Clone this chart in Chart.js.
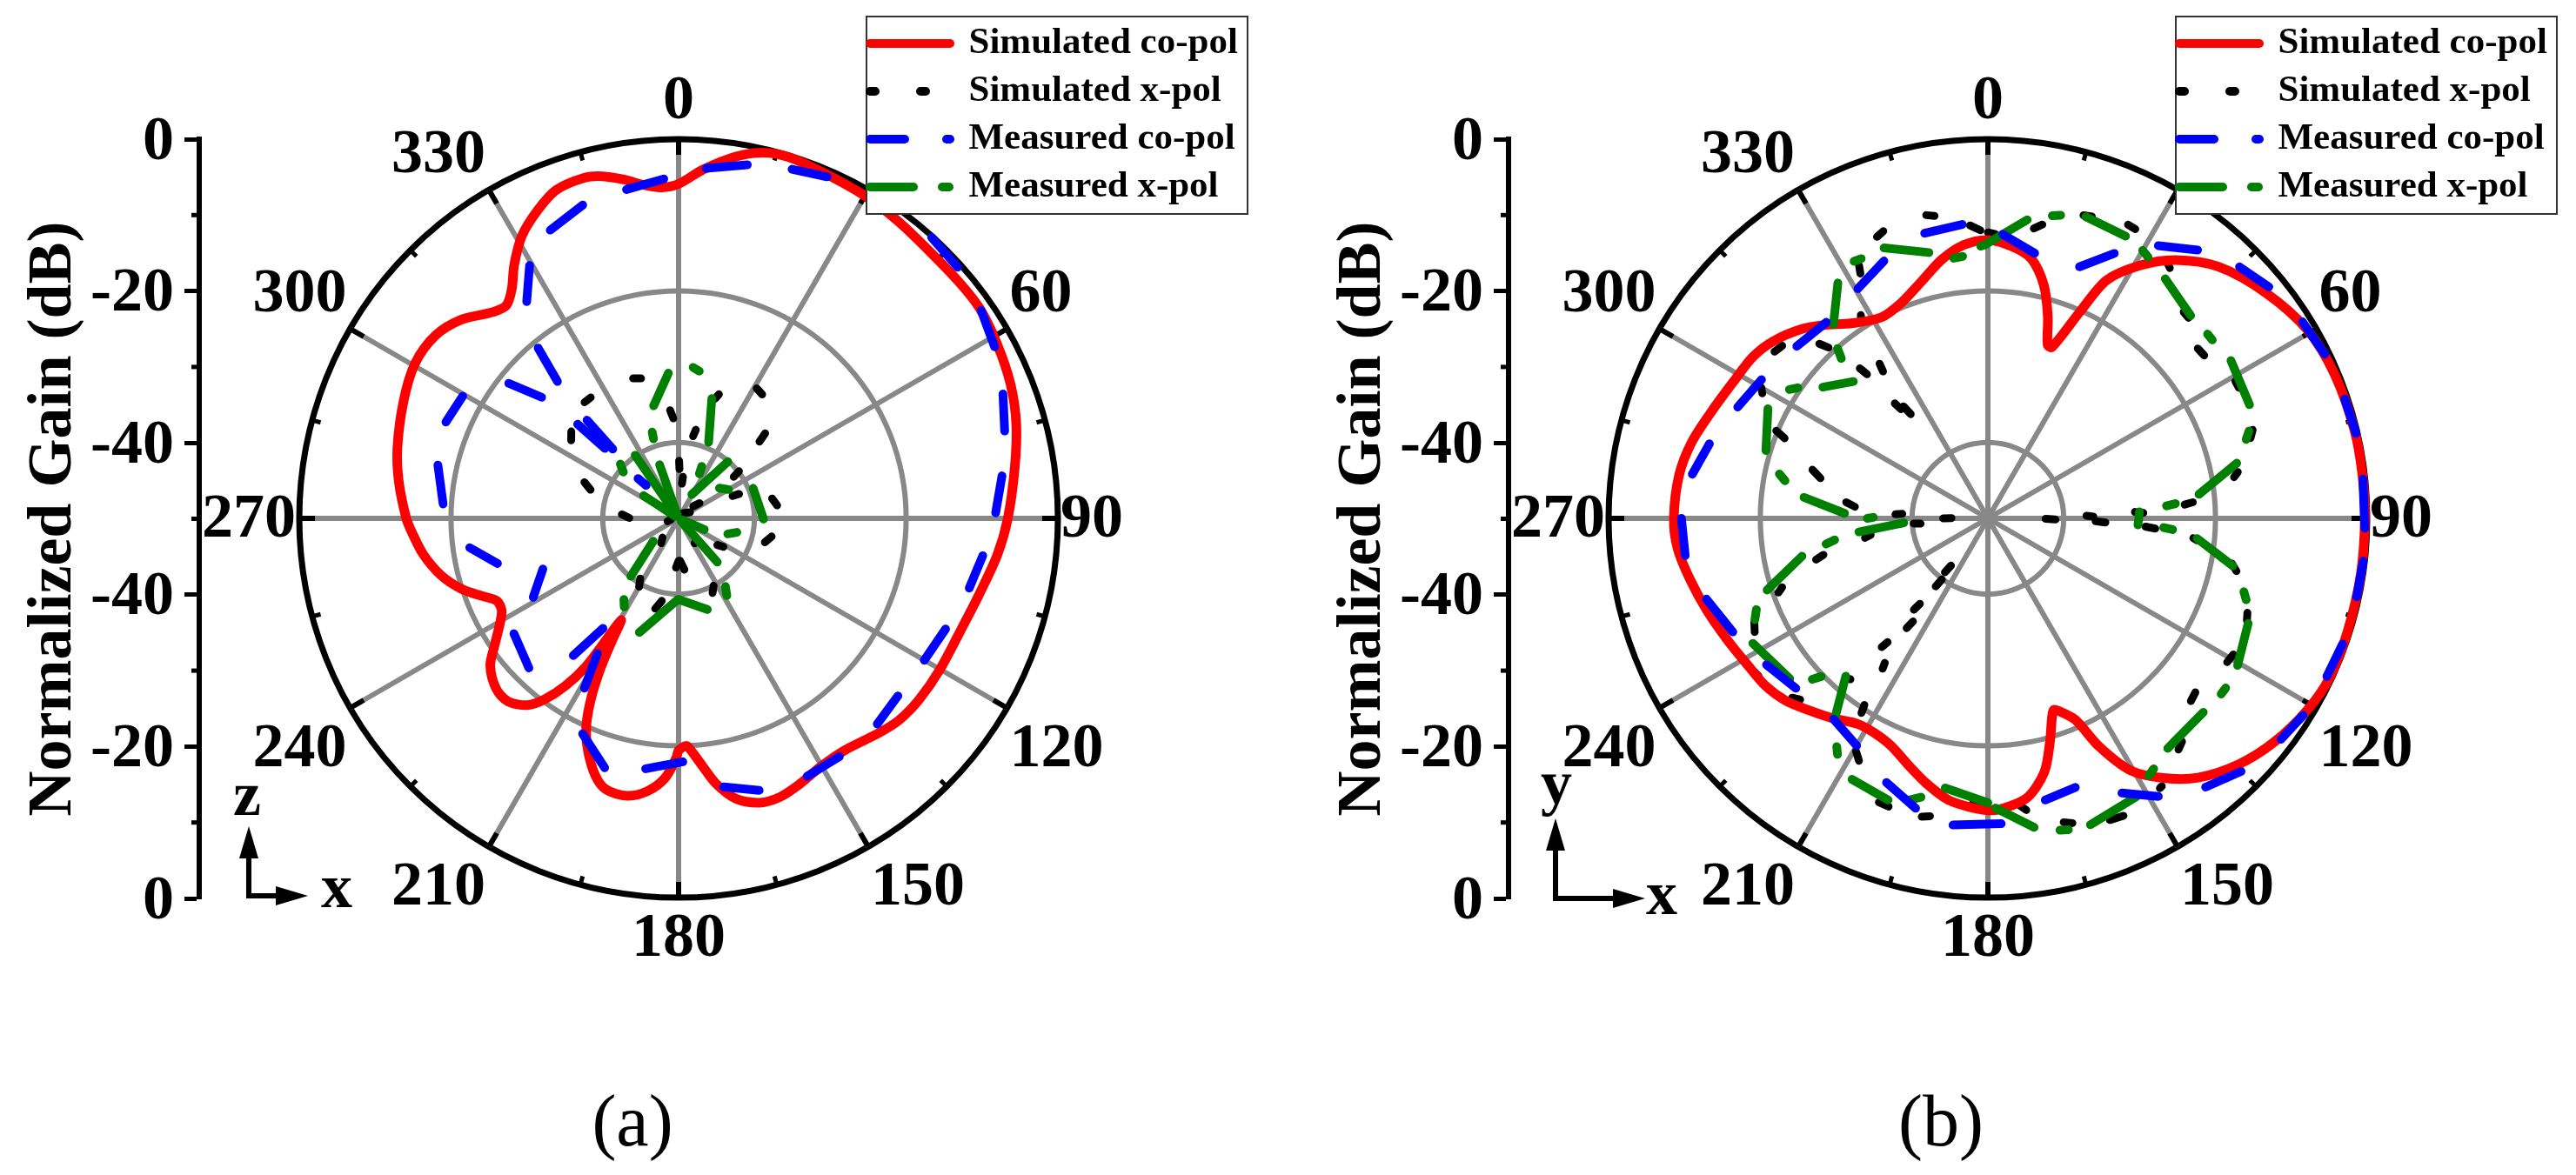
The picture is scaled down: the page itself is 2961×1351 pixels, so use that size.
<!DOCTYPE html>
<html><head><meta charset="utf-8">
<style>html,body{margin:0;padding:0;background:#fff;width:2961px;height:1351px;overflow:hidden}
canvas{position:absolute;top:0;display:block}</style>
<script src="https://cdn.jsdelivr.net/npm/chart.js@4"></script>
</head><body>
<canvas id="chartA" width="1456" height="1351" style="left:0"></canvas>
<canvas id="chartB" width="1456" height="1351" style="left:1505px"></canvas>
<script>
// ---------- values: [angle deg, gain dB] ----------
const simCoA=[[0,-5.9],[4,-3.9],[9,-1.7],[13,-.5],[17,-.2],[23,-.6],[30,-.9],[36.5,-1.3],[44,-1.7],[50,-1.65],[55,-1.6],[61,-2.1],[68,-2.8],[74.5,-3.8],[81.5,-5.2],[90,-6.6],[96.5,-7.7],[104,-9.1],[110.5,-9.9],[120,-10.2],[127,-10.3],[132.5,-10.6],[137,-11.3],[144.5,-12.4],[150,-12.3],[155.5,-11.5],[160,-10.9],[164,-11],[168.5,-12.3],[172,-14.7],[174.5,-17.2],[177,-19.4],[178,-20],[180,-19.4],[180.5,-18.5],[183,-15.7],[186.5,-13.8],[190.5,-12.8],[195,-13],[198,-14.4],[201.5,-17.3],[204,-20.1],[206,-23.8],[207.5,-27.8],[208.5,-31.5],[209.5,-34.6],[211,-30.6],[212,-27],[214,-23.4],[216.5,-20.3],[219,-18.3],[223,-17],[227,-17.1],[232,-18.5],[235.5,-20.6],[242,-23.6],[245.5,-23.7],[248.5,-22.1],[252,-19.9],[256.5,-17.8],[262,-16],[267,-14.8],[270,-14.1],[277.5,-12.8],[284,-11.8],[293,-10.6],[300.5,-9.7],[307,-9.9],[312.5,-11.2],[318,-13.4],[321,-13.9],[324,-12.6],[327,-10.2],[331,-7.4],[335.5,-5.3],[339.5,-3.8],[344.5,-3.4],[347.5,-3.8],[351,-4.8],[354,-5.8],[357,-6.3]];
const simCoB=[[0,-13.3],[5,-14],[9.5,-15.3],[13.5,-18.4],[16.5,-22.2],[19,-25.8],[20.5,-25.9],[24,-20.2],[26.5,-14.9],[31,-11.1],[36,-7.9],[42.5,-5],[51,-2.8],[59.5,-1.1],[67.5,-.5],[76.5,-.3],[83.5,-.3],[90,-.3],[98.5,-.3],[107.5,-.3],[115,-.3],[121,-.9],[128,-2.1],[134.5,-3.7],[141,-6],[146,-8.7],[150.5,-11.8],[154,-16.5],[156.5,-21],[159.5,-22.8],[161,-23.3],[162,-22.6],[164.5,-19.4],[167.5,-15.7],[172,-12.8],[177,-11.7],[180,-11.5],[184,-11.9],[188,-12.5],[193,-14.1],[197.5,-15.7],[203,-17.4],[208,-18],[212.5,-17.9],[217.5,-16.7],[223,-15.4],[228,-14.1],[233,-13.3],[238.5,-12.9],[245,-12.1],[252,-11],[258.5,-9.9],[264.5,-8.9],[270,-8.6],[278,-8.9],[284.5,-9.7],[291.5,-11],[299,-12],[304.5,-12.4],[309.5,-13.3],[315.5,-15],[320,-16.7],[325,-18.6],[332,-20],[338,-19.4],[344.5,-17.5],[350,-15.3],[355,-13.8]];
// each visible dash: [angle1, dB1, angle2, dB2]
const simXA=[[342,-30.6,345,-30.9],[321,-30.3,324,-30.3],[306,-32.5,309,-31.8],[288,-37.8,291,-36.7],[270.5,-43.5,274,-42.5],[255,-48.5,262,-49],[215,-46,220,-46.7],[210,-39.6,212.5,-40.6],[191.5,-38.9,194.5,-37.7],[180,-44.4,183,-43.5],[173.5,-43.2,178,-44.4],[152.5,-40,155.5,-39.2],[142.5,-46.2,147,-46.1],[122.5,-43,124.5,-43.8],[101,-37.5,105.5,-38.2],[67.5,-42.3,68,-41.4],[78,-37.4,82.5,-36.9],[52,-39.9,53,-40.9],[41,-49.1,62,-48.3],[50.5,-47.5,54,-46.6],[10,-39,11,-38.1],[5.5,-45.4,6,-44.5],[.5,-42.4,1,-43.5],[355.5,-35.7,357,-36.8],[17,-33.5,18,-32.8],[31,-30,34,-30.3],[45.5,-34,46.5,-35.3]];
const simXB=[[356.5,-11.3,358.5,-12],[0,-12.3,1.5,-12.5],[9,-11.3,10.5,-10.6],[17.5,-8.1,19,-7.9],[25.5,-7.1,27,-7.2],[35,-8.8,36,-9.2],[43.5,-12.5,45,-12.6],[51,-14.4,53,-14.3],[61,-12.7,62.5,-12.7],[71.5,-13.2,73,-13.8],[79.5,-16.5,80.5,-17.1],[85.5,-22.9,86,-24],[93,-29.2,93.5,-27.9],[87.5,-30.6,88,-29.5],[88.5,-37,89,-36.1],[91.5,-35.8,92,-34.5],[90.5,-42.4,91,-41.1],[95.5,-22.8,96,-22.3],[100.5,-17.3,102,-16.5],[110,-13.6,111.5,-13.3],[119,-13,121,-13.2],[130,-14.3,132,-14],[139,-11,140.5,-10.5],[147,-7.9,147.5,-7.8],[155.5,-6.9,158,-7.1],[164.5,-8.3,166,-8.7],[172.5,-11.2,174,-12.1],[182,-12.4,183,-12.4],[191,-10,192.5,-9.7],[199,-9.8,201,-9.9],[208,-13.8,209.5,-14.7],[213,-19.4,213.5,-20.5],[220.5,-22.1,221.5,-21.8],[226,-15.6,227.5,-15],[235.5,-13.3,237,-13.1],[244,-15.8,246,-16.3],[250.5,-20.7,251.5,-21.4],[256.5,-26.7,257.5,-27.8],[261,-33.6,262,-34.4],[265.5,-41.1,266,-40.2],[270,-44.1,270.5,-45.2],[215,-25.8,215.5,-26.6],[219,-29,219.5,-28],[216,-33.2,216.5,-32],[218.5,-35.6,219,-34.5],[217,-39.9,217.5,-38.7],[218,-42.1,218.5,-40.9],[272.5,-37.8,273,-38.7],[275,-32.4,276.5,-31.2],[283.5,-27.3,285.5,-26],[291.5,-21.2,292.5,-19.8],[299,-16,300,-15.5],[321,-30.5,321.5,-31.6],[323,-31.5,323.5,-32.9],[319.5,-24,320,-25.2],[324.5,-26.2,325,-25.1],[316,-18,317,-19.2],[308,-14.3,310,-14.6],[327.5,-18.9,328,-18.4],[332.5,-13.6,333,-12.6],[338.5,-10.1,340,-9.7],[348.5,-9.2,350,-9.5]];
const measCoA=[[4.5,-3.7,11,-2.5],[18,-1.6,23.5,-.9],[42,-.15,48,-.5],[55.5,-1.6,61.5,-2.6],[69,-4.2,75,-5.5],[82.5,-7,89,-8.2],[97,-9.6,103.5,-10.6],[112.5,-11.9,120,-12.6],[129,-12.8,136,-12.3],[146,-12.1,153.5,-12],[163.5,-12.6,170.5,-14.1],[179,-17.9,187.5,-16.7],[196.5,-15.7,204,-18.9],[209,-24.4,211,-29.2],[214.5,-32.4,217.5,-27.2],[225,-22.1,235,-23.5],[241.5,-28.2,249.5,-30.9],[256,-25.4,262,-22.2],[273.5,-18.9,282.5,-17.5],[292.5,-16.8,299.5,-17.3],[308.5,-21.4,311.5,-25.9],[318.5,-25.9,320.5,-20.9],[313,-31.8,313.5,-36.6],[316.5,-37.4,317,-32.3],[314.5,-42.5,315.5,-43.9],[325,-15.1,329.5,-11.3],[336,-8.4,343,-6.8],[351,-6.1,357.5,-5.2]];
const measCoB=[[3,-12.5,10,-14.5],[20,-14.7,25.5,-11.3],[32,-7.6,38,-5.1],[45,-3.1,50.5,-2],[58,-1.1,64,-.6],[71.5,-.4,77,-.2],[84,-.3,91.5,-.3],[96.5,-.2,102,-.3],[109.5,-.4,115,-.7],[122,-1,127,-1.6],[135,-2.8,141,-4.4],[148.5,-7,154,-9.7],[162,-12.7,168.5,-12.1],[177.5,-9.7,186.5,-9.3],[194,-10.6,201,-12.7],[210,-15.4,217.5,-16.6],[228.5,-16.2,236.5,-15],[246,-13.2,254,-11.4],[263,-9.8,270,-9.6],[278.5,-10.6,285,-12],[294,-13.9,301.5,-15],[312,-16.1,320.5,-16.5],[330.5,-15.2,338,-13.4],[347.5,-11.5,355,-11.1]];
const measXA=[[347.5,-34.8,356,-30.8],[5.5,-30,8,-30.4],[15.5,-33.6,21.5,-39.2],[342.5,-39,343,-38.1],[324,-49.5,325.5,-39.9],[339.5,-49.5,340.5,-42.5],[302,-49.5,303,-44.5],[310,-40.5,313,-39.5],[24,-42.5,25,-43.5],[29,-46.4,41,-40.1],[53.5,-43.3,60,-42.4],[68,-39.4,90.5,-38.8],[103.5,-42.1,107.5,-43.2],[113,-49.5,113.5,-46.3],[138,-49.5,138.5,-42.3],[145.5,-39.1,148,-38],[162.5,-37.4,180,-39.3],[180.5,-39.3,199,-34.1],[211.5,-36.3,214,-37.1],[219.5,-40.1,228,-45.5]];
const measXB=[[358.5,-14.1,359.5,-13.9],[0,-13.7,7.5,-10.3],[12,-9.2,13.5,-8.9],[18,-8.2,26,-8.6],[30,-9.2,31.5,-9.6],[36.5,-10.7,45,-12.2],[50,-12.2,51.5,-12.2],[57,-11.8,66.5,-12.4],[71.5,-13.7,73,-14.4],[77.5,-16.4,83.5,-22],[85.5,-25.2,86,-26.4],[87.5,-30,92.5,-30.2],[93,-26.8,93.5,-25.6],[95.5,-22.3,101,-17.1],[106,-14.9,107.5,-14.3],[112,-13,120.5,-11.8],[125.5,-11.5,127,-11.5],[132,-11.8,142,-11.5],[146.5,-10.4,148,-10],[152,-8.4,161.5,-7.4],[165.5,-7.6,167,-7.8],[171.5,-8.8,178.5,-11.8],[180,-12.5,189,-14],[193.5,-12.2,195.5,-11.5],[199.5,-10.6,207.5,-11.2],[212.5,-13.1,213.5,-13.9],[217.5,-16.9,222,-22],[226.5,-19.7,227.5,-18.6],[231,-16.4,242,-14.9],[246.5,-16.5,248.5,-17.2],[252,-19.4,258.5,-25],[261,-28.4,262,-29.6],[264,-32.9,267,-38.9],[270,-34.1,270.5,-34.9],[272,-31.1,276.5,-25.6],[280.5,-22.8,282,-21.9],[287,-19.4,296.5,-17.6],[303,-18.8,304.5,-19.6],[308.5,-22.2,315.5,-24.7],[317.5,-21.4,318.5,-20.1],[321.5,-17.3,327.5,-13.2],[332.5,-11.8,334,-11.9],[339,-11.8,347.5,-14.1],[352.5,-15.4,354.5,-15.3]];
// ---------- labels ----------
const legendNames=['Simulated co-pol','Simulated x-pol','Measured co-pol','Measured x-pol'];
const angleTickValues=[0,60,90,120,150,180,210,240,270,300,330];
const gainTickValues=[50,30,10,-10,-30,-50];
const gainTickLabels=['0','-20','-40','-40','-20','0'];
const axisTitle='Normalized Gain (dB)';

// ---------- setup ----------
const SERIF='"Liberation Serif","Times New Roman",serif';
const STEPS=720;
const slotLabels=Array.from({length:STEPS},(_,i)=>String(i/2));
const slot=a=>Math.round(a*2)%STEPS;
const RED='#ff0000',BLK='#000000',BLU='#0000ff',GRN='#008000',GRAY='#888888';

function solidSeries(pairs,label,color,order){
  const data=new Array(STEPS).fill(null);
  pairs.forEach(p=>{data[slot(p[0])]=p[1];});
  return {label,data,borderColor:color,backgroundColor:'transparent',borderWidth:11,borderCapStyle:'round',borderJoinStyle:'round',
    pointRadius:0,pointHitRadius:0,spanGaps:true,tension:0.3,fill:false,order};
}
// dashes that overlap in angle cannot share one radar dataset, so they are spread over layers
function dashSeries(runs,label,color,order,width){
  const layers=[];
  runs.forEach(r=>{
    const s=slot(r[0]),e=slot(r[2]);
    let L=layers.find(l=>l.spans.every(sp=>e<sp[0]||s>sp[1]));
    if(!L){L={spans:[],data:new Array(STEPS).fill(null),pen:new Array(STEPS).fill(false)};layers.push(L);}
    L.spans.push([s,e]);
    L.data[s]=r[1];L.data[e]=r[3];
    for(let i=s;i<e;i++)L.pen[i]=true;
  });
  return layers.map((L,k)=>({label:k?label+' '+k:label,data:L.data,penDown:L.pen,borderColor:color,backgroundColor:'transparent',borderWidth:width,
    borderCapStyle:'round',borderJoinStyle:'round',pointRadius:0,pointHitRadius:0,spanGaps:true,tension:0,fill:false,order}));
}
const legendItems=[
 {text:legendNames[0],strokeStyle:RED,lineDash:[]},
 {text:legendNames[1],strokeStyle:BLK,lineDash:[6,52]},
 {text:legendNames[2],strokeStyle:BLU,lineDash:[40,48,4,100]},
 {text:legendNames[3],strokeStyle:GRN,lineDash:[50,33,8,100]}
].map((o,i)=>Object.assign(o,{fillStyle:'transparent',lineWidth:10,lineCap:'round',pointStyle:'line',hidden:false,datasetIndex:i,fontColor:'#000'}));

const panelPlugin={
  id:'panel',
  beforeLayout(chart){
    const lg=chart.legend;
    lg._layers=()=>[{z:20,draw(){
      const c=chart.ctx;
      c.save();c.fillStyle='#fff';c.strokeStyle='#333';c.lineWidth=2;
      c.fillRect(996,19,438,227);c.strokeRect(996,19,438,227);c.restore();
      lg.left=988;lg.right=1442;lg.top=16.5;lg.bottom=252;
      lg.draw();
    }}];
  },
  afterLayout(chart){
    const y=chart.scales.y;y.left=0;y.right=229;
  },
  // the radar controller does not forward per-segment styling, so the pen-up gaps are attached here
  afterDatasetsUpdate(chart){
    chart.data.datasets.forEach((ds,i)=>{
      if(!ds.penDown)return;
      const line=chart.getDatasetMeta(i).dataset;
      line._chart=chart;line._datasetIndex=i;
      line.options=Object.assign({},line.options,{segment:{setContext:c=>({
        borderColor:ds.penDown[c.p0DataIndex]?ds.borderColor:'transparent'})}});
      line._segments=undefined;
    });
  },
  beforeDatasetsDraw(chart){
    const r=chart.scales.r,y=chart.scales.y,c=chart.ctx;
    c.save();c.strokeStyle='#000';c.lineCap='butt';c.lineWidth=5;
    for(let a=0;a<360;a+=15){
      const i=a*2,len=a%30?10:18;
      const p=r.getPointPosition(i,r.drawingArea),q=r.getPointPosition(i,r.drawingArea-len);
      c.lineWidth=a%30?5:6;
      c.beginPath();c.moveTo(p.x,p.y);c.lineTo(q.x,q.y);c.stroke();
    }
    c.lineWidth=5;
    [40,20,0,-20,-40].forEach(v=>{
      const py=y.getPixelForValue(v);
      c.beginPath();c.moveTo(229,py);c.lineTo(220,py);c.stroke();
    });
    c.restore();
  },
  afterDraw(chart,_a,o){
    const r=chart.scales.r,c=chart.ctx;
    c.save();c.fillStyle='#000';c.textAlign='center';c.textBaseline='middle';
    c.font='bold 72px '+SERIF;
    angleTickValues.forEach(a=>{
      const p=r.getPointPosition(a*2,r.drawingArea);
      let dx=0,dy=0;
      if(a>180)dx=-58;else if(a===150||a===120)dx=57;else if(a===60||a===90)dx=39;
      if(a===0)dy=-43;else if(a===60||a===300||a===330)dy=-39;else if(a===90||a===270)dy=2;else dy=48;
      c.fillText(String(a),p.x+dx,p.y+dy);
    });
    // coordinate arrows
    const {ax,ay,tipY,tipX}=o;
    c.strokeStyle='#000';c.lineWidth=6;c.lineCap='butt';
    c.beginPath();c.moveTo(ax,tipY+30);c.lineTo(ax,ay);c.lineTo(tipX-30,ay);c.stroke();
    c.beginPath();c.moveTo(ax,tipY);c.lineTo(ax+11,tipY+37);c.lineTo(ax-11,tipY+37);c.closePath();c.fill();
    c.beginPath();c.moveTo(tipX,ay);c.lineTo(tipX-37,ay-11);c.lineTo(tipX-37,ay+11);c.closePath();c.fill();
    c.fillText(o.upLabel,o.upX,o.upY);
    c.fillText('x',o.xX,o.xY);
    c.font='84px '+SERIF;
    c.fillText(o.caption,o.capX,1295);
    c.restore();
  }
};

function makeChart(id,co,simX,measCo,measX,panel){
  const datasets=[
    ...dashSeries(measCo,legendNames[2],BLU,1,10),
    ...dashSeries(measX,legendNames[3],GRN,2,10),
    solidSeries(co,legendNames[0],RED,3),
    ...dashSeries(simX,legendNames[1],BLK,4,9)
  ];
  return new Chart(document.getElementById(id),{
    type:'radar',
    data:{labels:slotLabels,datasets},
    plugins:[panelPlugin],
    options:{
      responsive:false,animation:false,devicePixelRatio:1,
      layout:{autoPadding:false,padding:{left:0,top:160,right:240,bottom:318}},
      plugins:{
        tooltip:{enabled:false},title:{display:false},
        legend:{display:true,position:'chartArea',align:'start',
          labels:{usePointStyle:true,pointStyleWidth:92,padding:12,color:'#000',
            font:{family:SERIF,size:43,weight:'bold'},generateLabels:()=>legendItems}},
        panel
      },
      scales:{
        r:{type:'radialLinear',min:-50,max:0,
          afterBuildTicks(s){s.ticks=[-50,-40,-20,0].map(v=>({value:v}));},
          ticks:{display:false},
          pointLabels:{display:false},
          grid:{circular:true,
            color:c=>c.tick&&c.tick.value===0?'#000':GRAY,
            lineWidth:c=>c.tick&&c.tick.value===0?7:6},
          angleLines:{display:true,color:GRAY,lineWidth:c=>c.index%60===0?6:0}},
        y:{type:'linear',position:'left',min:-50,max:50,
          afterFit(s){s.width=344;},
          ticks:{stepSize:10,autoSkip:false,maxRotation:0,padding:12,labelOffset:4,color:'#000',
            font:{family:SERIF,size:72,weight:'bold'},
            callback:v=>{const i=gainTickValues.indexOf(v);return i<0?'':gainTickLabels[i];}},
          grid:{drawOnChartArea:false,drawTicks:true,tickLength:17,tickWidth:5,
            tickColor:c=>gainTickValues.includes(c.tick&&c.tick.value)?'#000':'transparent'},
          border:{display:true,width:6,color:'#000'},
          title:{display:true,text:axisTitle,color:'#000',padding:{top:19,bottom:0},
            font:{family:SERIF,size:72,weight:'bold'}}}
      }
    }
  });
}
makeChart('chartA',simCoA,simXA,measCoA,measXA,{ax:286,ay:1030,tipY:950,tipX:354,upLabel:'z',upX:284,upY:918,xX:387,xY:1024,caption:'(a)',capX:727});
makeChart('chartB',simCoB,simXB,measCoB,measXB,{ax:283,ay:1033,tipY:941,tipX:386,upLabel:'y',upX:284,upY:905,xX:405,xY:1032,caption:'(b)',capX:726});
</script>
</body></html>
